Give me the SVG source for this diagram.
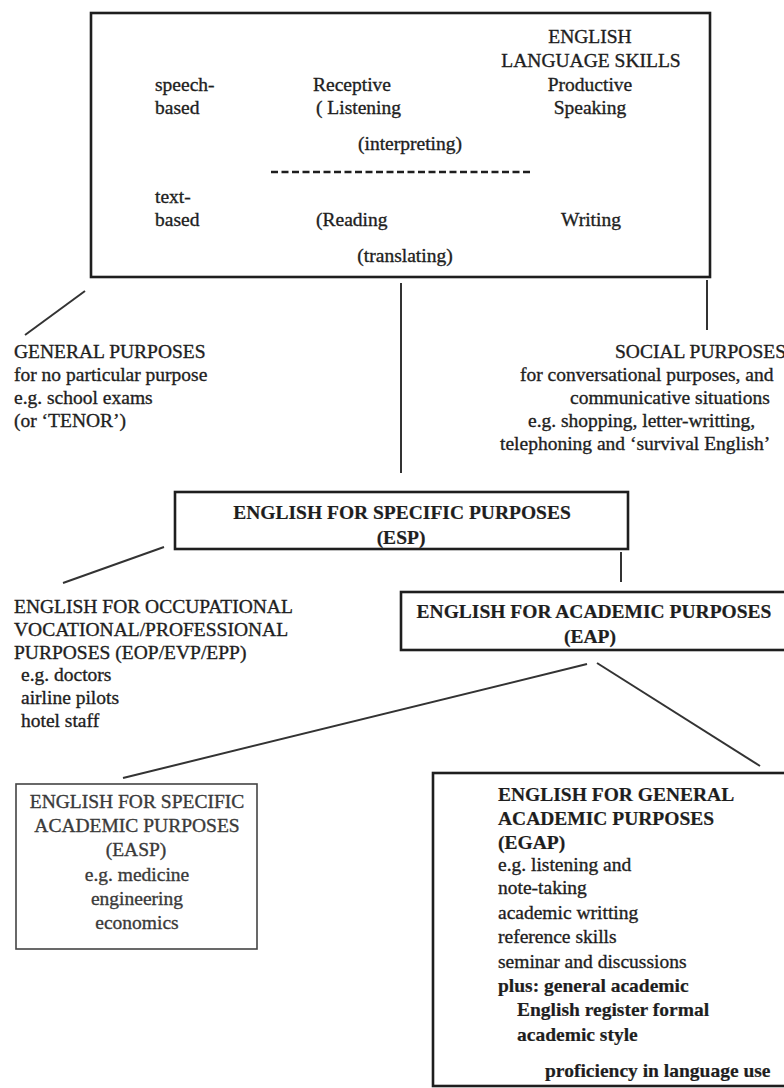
<svg xmlns="http://www.w3.org/2000/svg" width="784" height="1088" viewBox="0 0 784 1088">
<style>
text{font-family:"Liberation Serif","Times New Roman",serif;font-size:19.5px;fill:#1e1e1e;stroke:#1e1e1e;stroke-width:0.35}
.b{font-weight:bold;stroke-width:0.2}
.c{text-anchor:middle}
.box{fill:none;stroke:#1e1e1e;stroke-width:2.6}
.thin{fill:none;stroke:#444;stroke-width:1.6}
.ln{stroke:#333;stroke-width:2;fill:none}
.g{fill:#3a3a3a;stroke:#3a3a3a}
</style>
<rect width="784" height="1088" fill="#fff"/>
<g id="skills">
<rect class="box" x="91" y="13" width="619" height="264"/>
<text class="c" x="590" y="43">ENGLISH</text>
<text class="c" x="591" y="67">LANGUAGE SKILLS</text>
<text x="155" y="91">speech-</text>
<text x="155" y="114">based</text>
<text x="313" y="91">Receptive</text>
<text x="316" y="114">( Listening</text>
<text class="c" x="590" y="91">Productive</text>
<text class="c" x="590" y="114">Speaking</text>
<text class="c" x="410" y="150">(interpreting)</text>
<line x1="271" y1="172" x2="532" y2="172" stroke="#1e1e1e" stroke-width="2.5" stroke-dasharray="7 3.5"/>
<text x="155" y="203">text-</text>
<text x="155" y="226">based</text>
<text x="316" y="226">(Reading</text>
<text class="c" x="591" y="226">Writing</text>
<text class="c" x="405" y="262">(translating)</text>
</g>
<g id="general">
<text x="14" y="358">GENERAL PURPOSES</text>
<text x="14" y="381">for no particular purpose</text>
<text x="14" y="404">e.g. school exams</text>
<text x="14" y="427">(or ‘TENOR’)</text>
</g>
<g id="social">
<text x="615" y="358">SOCIAL PURPOSES</text>
<text x="520" y="381">for conversational purposes, and</text>
<text x="570" y="404">communicative situations</text>
<text x="528" y="427">e.g. shopping, letter-writting,</text>
<text x="500" y="450">telephoning and ‘survival English’</text>
</g>
<g id="esp">
<rect class="box" x="175" y="492" width="453" height="57"/>
<text class="c b" x="402" y="519">ENGLISH FOR SPECIFIC PURPOSES</text>
<text class="c b" x="401" y="544">(ESP)</text>
</g>
<g id="eop">
<text x="14" y="613">ENGLISH FOR OCCUPATIONAL</text>
<text x="14" y="636">VOCATIONAL/PROFESSIONAL</text>
<text x="14" y="659">PURPOSES (EOP/EVP/EPP)</text>
<text x="21" y="681">e.g. doctors</text>
<text x="21" y="704">airline pilots</text>
<text x="21" y="727">hotel staff</text>
</g>
<g id="eap">
<rect class="box" x="401" y="592" width="390" height="58"/>
<text class="c b" x="594" y="618">ENGLISH FOR ACADEMIC PURPOSES</text>
<text class="c b" x="590" y="643">(EAP)</text>
</g>
<g id="easp">
<rect class="thin" x="16" y="784" width="241" height="165"/>
<text class="c g" x="137" y="808">ENGLISH FOR SPECIFIC</text>
<text class="c g" x="137" y="832">ACADEMIC PURPOSES</text>
<text class="c g" x="136" y="856">(EASP)</text>
<text class="c g" x="137" y="881">e.g. medicine</text>
<text class="c g" x="137" y="905">engineering</text>
<text class="c g" x="137" y="929">economics</text>
</g>
<g id="egap">
<rect class="box" x="433" y="773" width="362" height="313"/>
<text class="b" x="498" y="801">ENGLISH FOR GENERAL</text>
<text class="b" x="498" y="825">ACADEMIC PURPOSES</text>
<text class="b" x="498" y="849">(EGAP)</text>
<text x="498" y="871">e.g. listening and</text>
<text x="498" y="894">note-taking</text>
<text x="498" y="919">academic writting</text>
<text x="498" y="943">reference skills</text>
<text x="498" y="968">seminar and discussions</text>
<text class="b" x="498" y="992">plus: general academic</text>
<text class="b" x="517" y="1016">English register formal</text>
<text class="b" x="517" y="1041">academic style</text>
<text class="b" x="545" y="1077">proficiency in language use</text>
</g>
<g id="connectors">
<line class="ln" x1="85" y1="291" x2="25" y2="335"/>
<line class="ln" x1="401" y1="283" x2="401" y2="473"/>
<line class="ln" x1="707" y1="280" x2="707" y2="330"/>
<line class="ln" x1="164" y1="547" x2="63" y2="583"/>
<line class="ln" x1="621" y1="552" x2="621" y2="582"/>
<line class="ln" x1="587" y1="664" x2="123" y2="778"/>
<line class="ln" x1="597" y1="663" x2="760" y2="766"/>
</g>
</svg>
